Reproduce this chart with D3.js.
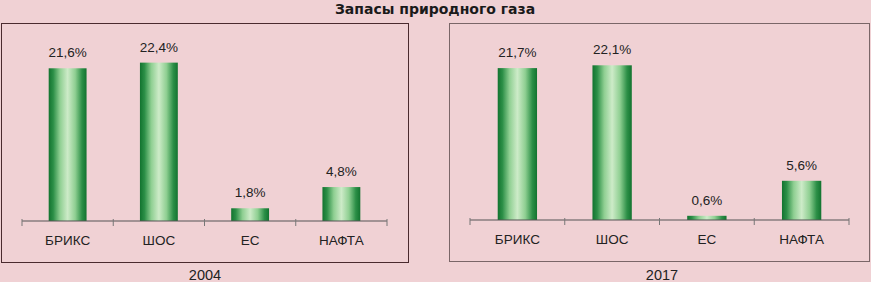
<!DOCTYPE html>
<html><head><meta charset="utf-8">
<script src="https://cdn.jsdelivr.net/npm/d3@7"></script>
<style>
html,body{margin:0;padding:0;background:#f0d1d4;}
svg{display:block;}
</style></head>
<body>
<svg id="chart" width="871" height="282"></svg>
<script>
const title = "Запасы природного газа";
const categories = ["БРИКС", "ШОС", "ЕС", "НАФТА"];
const years = ["2004", "2017"];
const values2004 = [21.6, 22.4, 1.8, 4.8];
const values2017 = [21.7, 22.1, 0.6, 5.6];
const labels2004 = ["21,6%", "22,4%", "1,8%", "4,8%"];
const labels2017 = ["21,7%", "22,1%", "0,6%", "5,6%"];

const svg = d3.select("#chart");
const W = 871, H = 282;
svg.append("rect").attr("width", W).attr("height", H).attr("fill", "#f0d1d4");

const defs = svg.append("defs");
const grad = defs.append("linearGradient").attr("id", "barGrad")
  .attr("x1", "0%").attr("x2", "100%").attr("y1", "0%").attr("y2", "0%");
[[0, "#12732f"], [0.12, "#2c8f47"], [0.3, "#8fcf92"], [0.5, "#cdebc8"], [0.7, "#8fcf92"], [0.88, "#2c8f47"], [1, "#12732f"]]
  .forEach(([o, c]) => grad.append("stop").attr("offset", o).attr("stop-color", c));

svg.append("text").attr("x", 435).attr("y", 13.5).attr("text-anchor", "middle")
  .attr("font-family", "'DejaVu Sans', sans-serif").attr("font-weight", "bold")
  .attr("font-size", 14).attr("fill", "#1a1a1a").text(title);

const panels = [
  {year: years[0], values: values2004, labels: labels2004,
   box: [1.5, 23.5, 407, 239], xr: [22, 387], base: 221, ppu: 7.07, yearX: 205, border: "#4a2a2e"},
  {year: years[1], values: values2017, labels: labels2017,
   box: [449.5, 23.5, 420, 238], xr: [470, 849], base: 220, ppu: 7.0, yearX: 662, border: "#7a6668"}
];

panels.forEach(p => {
  const g = svg.append("g");
  g.append("rect").attr("x", p.box[0]).attr("y", p.box[1]).attr("width", p.box[2]).attr("height", p.box[3])
    .attr("fill", "none").attr("stroke", p.border).attr("stroke-width", 1);

  const x = d3.scaleBand().domain(categories).range(p.xr).paddingInner(0.585).paddingOuter(0.2925);
  const y = d3.scaleLinear().domain([0, 25]).range([p.base, p.base - 25 * p.ppu]);

  g.selectAll("rect.bar").data(p.values).enter().append("rect").attr("class", "bar")
    .attr("x", (d, i) => x(categories[i]))
    .attr("y", d => y(d))
    .attr("width", x.bandwidth())
    .attr("height", d => y(0) - y(d))
    .attr("fill", "url(#barGrad)");

  g.selectAll("text.val").data(p.values).enter().append("text").attr("class", "val")
    .attr("x", (d, i) => x(categories[i]) + x.bandwidth() / 2)
    .attr("y", d => y(d) - 11)
    .attr("text-anchor", "middle")
    .attr("font-family", "'Liberation Sans', Arial, sans-serif").attr("font-size", 13.5)
    .attr("fill", "#222").text((d, i) => p.labels[i]);

  // axis
  const axis = d3.axisBottom(x).tickSize(0).tickPadding(14);
  const ag = g.append("g").attr("transform", `translate(0,${p.base})`).call(axis);
  ag.select(".domain").attr("stroke", "#555").attr("stroke-width", 1.2)
    .attr("d", `M${p.xr[0]},0H${p.xr[1]}`);
  ag.selectAll("text").attr("font-family", "'Liberation Sans', Arial, sans-serif")
    .attr("font-size", 13.5).attr("fill", "#222");
  const step = x.step();
  for (let i = 0; i <= categories.length; i++) {
    const tx = p.xr[0] + i * step;
    ag.append("line").attr("x1", tx).attr("x2", tx).attr("y1", -2).attr("y2", 5)
      .attr("stroke", "#777").attr("stroke-width", 1);
  }

  svg.append("text").attr("x", p.yearX).attr("y", 280).attr("text-anchor", "middle")
    .attr("font-family", "'Liberation Sans', Arial, sans-serif").attr("font-size", 14.5)
    .attr("fill", "#222").text(p.year);
});
</script>
</body></html>
